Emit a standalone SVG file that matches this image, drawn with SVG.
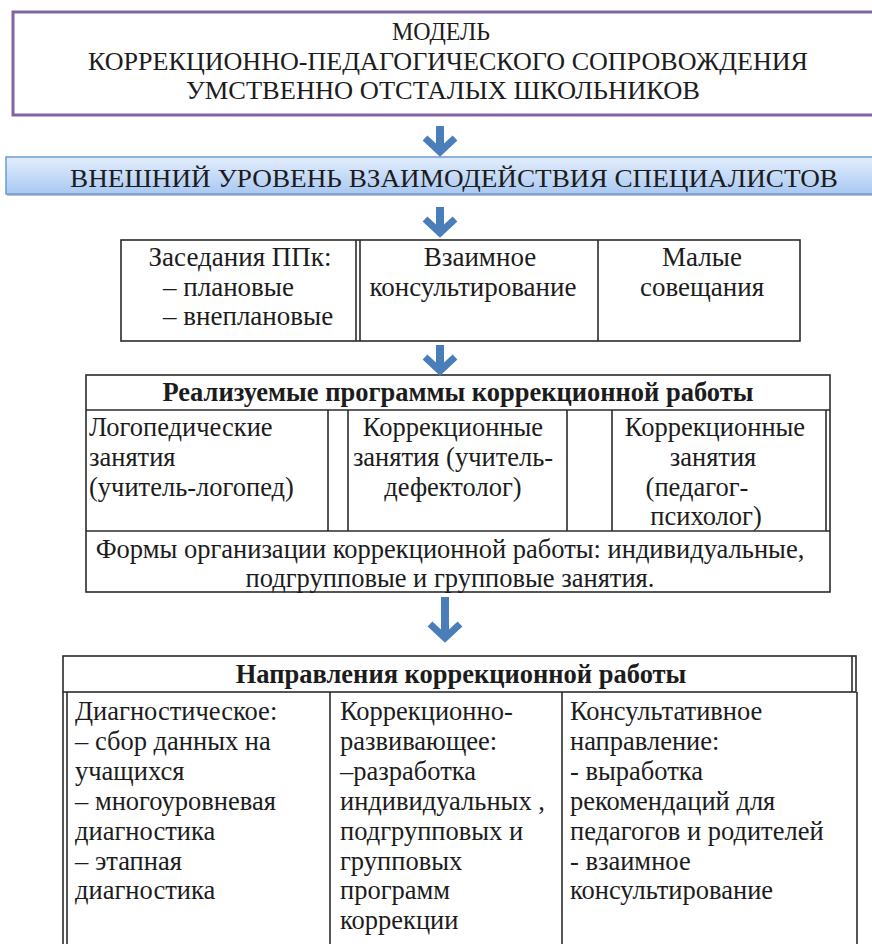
<svg xmlns="http://www.w3.org/2000/svg" width="872" height="944" viewBox="0 0 872 944">
<defs>
<linearGradient id="barGrad" x1="0" y1="0" x2="0" y2="1">
<stop offset="0" stop-color="#e3eefc"/>
<stop offset="1" stop-color="#a9c8f3"/>
</linearGradient>
<g id="arrow">
<path d="M0,0 V22" stroke="#4a7ebb" stroke-width="8" fill="none"/>
<path d="M-15,12 L0,26 L15,12" stroke="#4a7ebb" stroke-width="7" fill="none" stroke-linejoin="miter"/>
</g>
</defs>
<style>
.ln{stroke:#2b2b2b;stroke-width:1.6;fill:none}
</style>
<rect width="872" height="944" fill="#ffffff"/>

<g id="title" fill="#1c1c1c" text-anchor="middle">
<rect x="13" y="12" width="880" height="103" fill="#ffffff" stroke="#8064a2" stroke-width="3"/>
<text font-family="Liberation Serif" font-size="26" x="441" y="40" textLength="98" lengthAdjust="spacingAndGlyphs">МОДЕЛЬ</text>
<text font-family="Liberation Serif" font-size="26" x="448" y="70" textLength="720" lengthAdjust="spacingAndGlyphs">КОРРЕКЦИОННО-ПЕДАГОГИЧЕСКОГО СОПРОВОЖДЕНИЯ</text>
<text font-family="Liberation Serif" font-size="26" x="443" y="99" textLength="514" lengthAdjust="spacingAndGlyphs">УМСТВЕННО ОТСТАЛЫХ ШКОЛЬНИКОВ</text>
</g>

<g id="external-level">
<rect x="7" y="159" width="880" height="37" fill="#bfbfbf"/>
<rect x="6" y="157" width="880" height="37" fill="url(#barGrad)" stroke="#6b9bd6" stroke-width="1.5"/>
<text font-family="Liberation Serif" font-size="26" x="454" y="187" fill="#1c1c1c" text-anchor="middle" textLength="768" lengthAdjust="spacingAndGlyphs">ВНЕШНИЙ  УРОВЕНЬ ВЗАИМОДЕЙСТВИЯ СПЕЦИАЛИСТОВ</text>
</g>

<g id="forms" fill="#1c1c1c">
<rect class="ln" x="121" y="240" width="679" height="101"/>
<line class="ln" x1="356" y1="240" x2="356" y2="341"/>
<line class="ln" x1="360" y1="240" x2="360" y2="341"/>
<line class="ln" x1="598" y1="240" x2="598" y2="341"/>
<text font-family="Liberation Serif" font-size="27" x="240" y="266" text-anchor="middle">Заседания ППк:</text>
<text font-family="Liberation Serif" font-size="27" x="163" y="296">–  плановые</text>
<text font-family="Liberation Serif" font-size="27" x="163" y="325">–  внеплановые</text>
<text font-family="Liberation Serif" font-size="27" x="480" y="266" text-anchor="middle">Взаимное</text>
<text font-family="Liberation Serif" font-size="27" x="473" y="296" text-anchor="middle">консультирование</text>
<text font-family="Liberation Serif" font-size="27" x="702" y="266" text-anchor="middle">Малые</text>
<text font-family="Liberation Serif" font-size="27" x="702" y="296" text-anchor="middle">совещания</text>
</g>

<g id="programs" fill="#1c1c1c">
<rect class="ln" x="86" y="375" width="744" height="217"/>
<line class="ln" x1="86" y1="410" x2="830" y2="410"/>
<line class="ln" x1="86" y1="531" x2="830" y2="531"/>
<line class="ln" x1="328" y1="410" x2="328" y2="531"/>
<line class="ln" x1="348" y1="410" x2="348" y2="531"/>
<line class="ln" x1="567" y1="410" x2="567" y2="531"/>
<line class="ln" x1="612" y1="410" x2="612" y2="531"/>
<line class="ln" x1="826" y1="410" x2="826" y2="531"/>
<text font-family="Liberation Serif" font-size="26.5" x="458" y="401" text-anchor="middle" font-weight="bold">Реализуемые программы коррекционной работы</text>
<text font-family="Liberation Serif" font-size="26.5" x="89" y="436">Логопедические</text>
<text font-family="Liberation Serif" font-size="26.5" x="89" y="466">занятия</text>
<text font-family="Liberation Serif" font-size="26.5" x="89" y="496">(учитель-логопед)</text>
<text font-family="Liberation Serif" font-size="26.5" x="453" y="436" text-anchor="middle">Коррекционные</text>
<text font-family="Liberation Serif" font-size="26.5" x="453" y="466" text-anchor="middle">занятия (учитель-</text>
<text font-family="Liberation Serif" font-size="26.5" x="453" y="496" text-anchor="middle">дефектолог)</text>
<text font-family="Liberation Serif" font-size="26.5" x="715" y="436" text-anchor="middle">Коррекционные</text>
<text font-family="Liberation Serif" font-size="26.5" x="713" y="466" text-anchor="middle">занятия</text>
<text font-family="Liberation Serif" font-size="26.5" x="697" y="496" text-anchor="middle">(педагог-</text>
<text font-family="Liberation Serif" font-size="26.5" x="706" y="525" text-anchor="middle">психолог)</text>
<text font-family="Liberation Serif" font-size="26.5" x="450" y="558" text-anchor="middle">Формы организации коррекционной работы: индивидуальные,</text>
<text font-family="Liberation Serif" font-size="26.5" x="450" y="587" text-anchor="middle">подгрупповые и групповые занятия.</text>
</g>

<g id="directions" fill="#1c1c1c">
<rect class="ln" x="63" y="656" width="793" height="36"/>
<line class="ln" x1="852" y1="656" x2="852" y2="692"/>
<line class="ln" x1="63" y1="692" x2="63" y2="950"/>
<line class="ln" x1="67" y1="692" x2="67" y2="950"/>
<line class="ln" x1="330" y1="692" x2="330" y2="950"/>
<line class="ln" x1="562" y1="692" x2="562" y2="950"/>
<line class="ln" x1="857" y1="692" x2="857" y2="950"/>
<text font-family="Liberation Serif" font-size="26.5" x="461" y="683" text-anchor="middle" font-weight="bold">Направления коррекционной работы</text>
<text font-family="Liberation Serif" font-size="26.5" x="75" y="720">Диагностическое:</text>
<text font-family="Liberation Serif" font-size="26.5" x="75" y="750">– сбор данных на</text>
<text font-family="Liberation Serif" font-size="26.5" x="75" y="780">учащихся</text>
<text font-family="Liberation Serif" font-size="26.5" x="75" y="810">– многоуровневая</text>
<text font-family="Liberation Serif" font-size="26.5" x="75" y="840">диагностика</text>
<text font-family="Liberation Serif" font-size="26.5" x="75" y="870">– этапная</text>
<text font-family="Liberation Serif" font-size="26.5" x="75" y="899">диагностика</text>
<text font-family="Liberation Serif" font-size="26.5" x="340" y="720">Коррекционно-</text>
<text font-family="Liberation Serif" font-size="26.5" x="340" y="750">развивающее:</text>
<text font-family="Liberation Serif" font-size="26.5" x="340" y="780">–разработка</text>
<text font-family="Liberation Serif" font-size="26.5" x="340" y="810">индивидуальных ,</text>
<text font-family="Liberation Serif" font-size="26.5" x="340" y="840">подгрупповых и</text>
<text font-family="Liberation Serif" font-size="26.5" x="340" y="870">групповых</text>
<text font-family="Liberation Serif" font-size="26.5" x="340" y="899">программ</text>
<text font-family="Liberation Serif" font-size="26.5" x="340" y="929">коррекции</text>
<text font-family="Liberation Serif" font-size="26.5" x="570" y="720">Консультативное</text>
<text font-family="Liberation Serif" font-size="26.5" x="570" y="750">направление:</text>
<text font-family="Liberation Serif" font-size="26.5" x="570" y="780">- выработка</text>
<text font-family="Liberation Serif" font-size="26.5" x="570" y="810">рекомендаций для</text>
<text font-family="Liberation Serif" font-size="26.5" x="570" y="840">педагогов и родителей</text>
<text font-family="Liberation Serif" font-size="26.5" x="570" y="870">- взаимное</text>
<text font-family="Liberation Serif" font-size="26.5" x="570" y="899">консультирование</text>
</g>

<g id="connectors">
<use href="#arrow" x="440" y="126"/>
<use href="#arrow" x="440" y="207"/>
<use href="#arrow" x="440" y="345"/>
<path d="M445,597 V634" stroke="#4a7ebb" stroke-width="8" fill="none"/>
<path d="M430,624 L445,638 L460,624" stroke="#4a7ebb" stroke-width="7" fill="none"/>
</g>
</svg>
